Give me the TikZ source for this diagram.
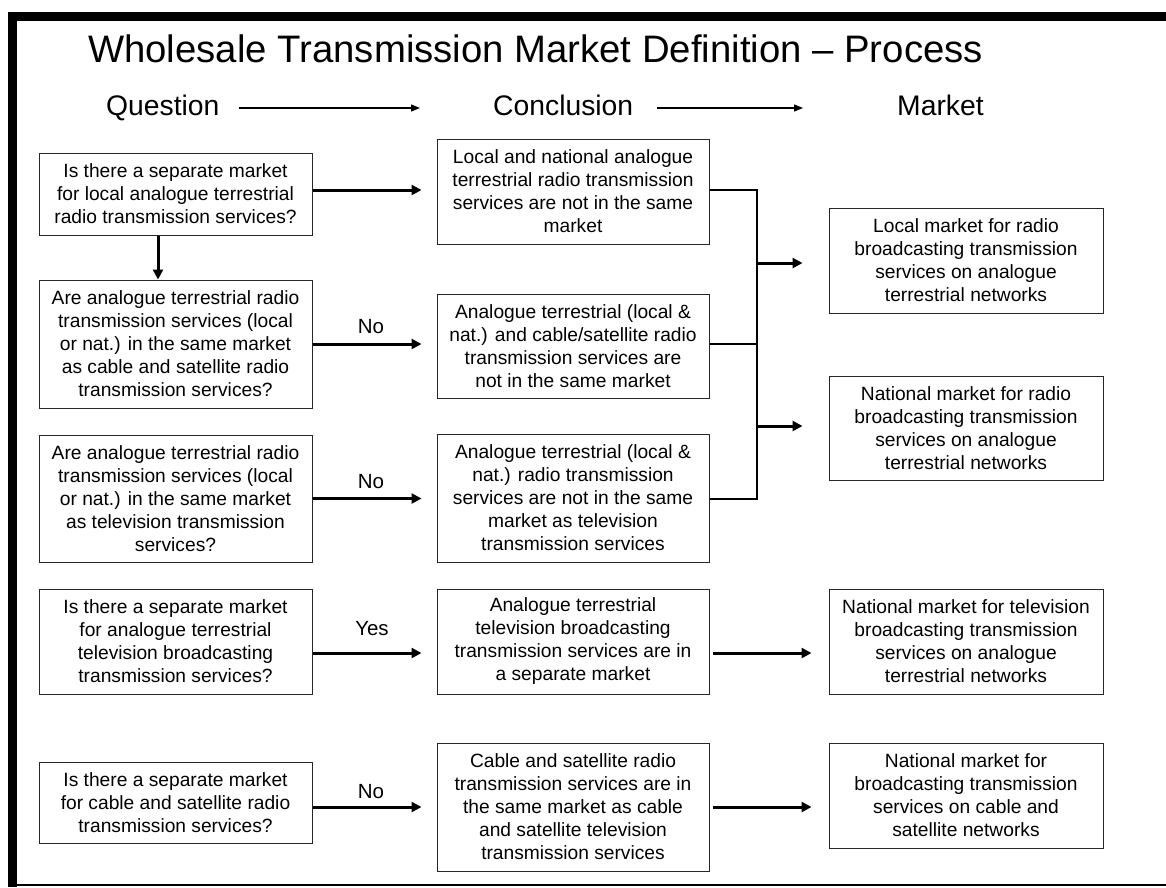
\documentclass[tikz,border=0pt]{standalone}
\usepackage{fontspec}
\setmainfont{Liberation Sans}
\usetikzlibrary{arrows.meta}
\begin{document}
\begin{tikzpicture}[x=1pt,y=-1pt,
  box/.style={draw=black!85, line width=1pt, minimum width=273pt, inner sep=0pt,
    align=center, font=\fontsize{19.2}{23}\selectfont},
  flow/.style={line width=3pt, -{Triangle[length=10pt,width=10pt]}},
  busline/.style={line width=2pt},
  hdrarrow/.style={line width=1.3pt, -{Triangle[length=9pt,width=7pt]}},
  hdr/.style={anchor=base west, inner sep=0pt, font=\fontsize{28.3}{34}\selectfont},
  answer/.style={anchor=base, inner sep=0pt, font=\fontsize{20.5}{24}\selectfont}
]
\useasboundingbox (0,0) rectangle (1166,887);

% frame
\fill (8,12) rectangle (1166,21);
\fill (8,12) rectangle (17,887);
\draw[line width=1.5pt] (17,885) -- (1166,885);

% title and column headings
\node[anchor=base west, inner sep=0pt, font=\fontsize{38.3}{46}\selectfont] (title) at (88,62)
  {Wholesale Transmission Market Definition \textendash{} Process};
\node[hdr] (hq) at (106,115) {Question};
\node[hdr] (hc) at (493,115) {Conclusion};
\node[hdr] (hm) at (897,115) {Market};
\coordinate (hy) at (0,108);
\draw[hdrarrow, shorten <=19pt, shorten >=73pt] (hq.east |- hy) -- (hc.west |- hy);
\draw[hdrarrow, shorten <=24pt, shorten >=94pt] (hc.east |- hy) -- (hm.west |- hy);

% question column
\node[box, minimum height=82pt] (Q1) at (175.5,194)
  {Is there a separate market\\for local analogue terrestrial\\radio transmission services?};
\node[box, minimum height=128pt] (Q2) at (175.5,344)
  {Are analogue terrestrial radio\\transmission services (local\\or nat.) in the same market\\as cable and satellite radio\\transmission services?};
\node[box, minimum height=127pt] (Q3) at (175.5,498.5)
  {Are analogue terrestrial radio\\transmission services (local\\or nat.) in the same market\\as television transmission\\services?};
\node[box, minimum height=105pt] (Q4) at (175.5,641.5)
  {Is there a separate market\\for analogue terrestrial\\television broadcasting\\transmission services?};
\node[box, minimum height=81pt] (Q5) at (175.5,802.5)
  {Is there a separate market\\for cable and satellite radio\\transmission services?};

% conclusion column
\node[box, minimum width=272pt, minimum height=105pt] (C1) at (573,191.5)
  {Local and national analogue\\terrestrial radio transmission\\services are not in the same\\market};
\node[box, minimum width=272pt, minimum height=104pt] (C2) at (573,346)
  {Analogue terrestrial (local \&\\nat.) and cable/satellite radio\\transmission services are\\not in the same market};
\node[box, minimum width=272pt, minimum height=128pt] (C3) at (573,498)
  {Analogue terrestrial (local \&\\nat.) radio transmission\\services are not in the same\\market as television\\transmission services};
\node[box, minimum width=272pt, minimum height=105pt] (C4) at (573,641.5)
  {Analogue terrestrial\\television broadcasting\\transmission services are in\\a separate market};
\node[box, minimum width=272pt, minimum height=128pt] (C5) at (573,807)
  {Cable and satellite radio\\transmission services are in\\the same market as cable\\and satellite television\\transmission services};

% market column
\node[box, minimum width=274pt, minimum height=105pt] (M1) at (966,260.5)
  {Local market for radio\\broadcasting transmission\\services on analogue\\terrestrial networks};
\node[box, minimum width=274pt, minimum height=104pt] (M2) at (966,428)
  {National market for radio\\broadcasting transmission\\services on analogue\\terrestrial networks};
\node[box, minimum width=274pt, minimum height=105pt] (M4) at (966,641.5)
  {National market for television\\broadcasting transmission\\services on analogue\\terrestrial networks};
\node[box, minimum width=274pt, minimum height=105pt] (M5) at (966,795.5)
  {National market for\\broadcasting transmission\\services on cable and\\satellite networks};

% connector levels
\coordinate (r1) at (0,190);
\coordinate (r2) at (0,344);
\coordinate (r3) at (0,498.5);
\coordinate (r4) at (0,653);
\coordinate (r5) at (0,807);
\coordinate (bus) at (757,0);
\coordinate (m1) at (0,263);
\coordinate (m2) at (0,426);

% question to conclusion
\draw[flow, shorten >=15pt] (Q1.east |- r1) -- (C1.west |- r1);
\draw[flow, shorten >=15pt] (Q2.east |- r2) -- (C2.west |- r2);
\draw[flow, shorten >=15pt] (Q3.east |- r3) -- (C3.west |- r3);
\draw[flow, shorten >=15pt] (Q4.east |- r4) -- (C4.west |- r4);
\draw[flow, shorten >=15pt] (Q5.east |- r5) -- (C5.west |- r5);
\draw[flow] ([xshift=-17.5pt]Q1.south) -- ([xshift=-17.5pt]Q2.north);

\node[answer] at (371,333) {No};
\node[answer] at (371,488) {No};
\node[answer] at (372,635) {Yes};
\node[answer] at (371,798) {No};

% radio conclusions joined on one bus
\draw[busline] (C1.east |- r1) -- (bus |- r1) -- (bus |- r3) -- (C3.east |- r3);
\draw[busline] (C2.east |- r2) -- (bus |- r2);
\draw[flow, shorten >=26pt] (bus |- m1) -- (M1.west |- m1);
\draw[flow, shorten >=26pt] (bus |- m2) -- (M2.west |- m2);

% conclusion to market
\draw[flow, shorten <=3pt, shorten >=17pt] (C4.east |- r4) -- (M4.west |- r4);
\draw[flow, shorten <=3pt, shorten >=17pt] (C5.east |- r5) -- (M5.west |- r5);
\end{tikzpicture}
\end{document}
